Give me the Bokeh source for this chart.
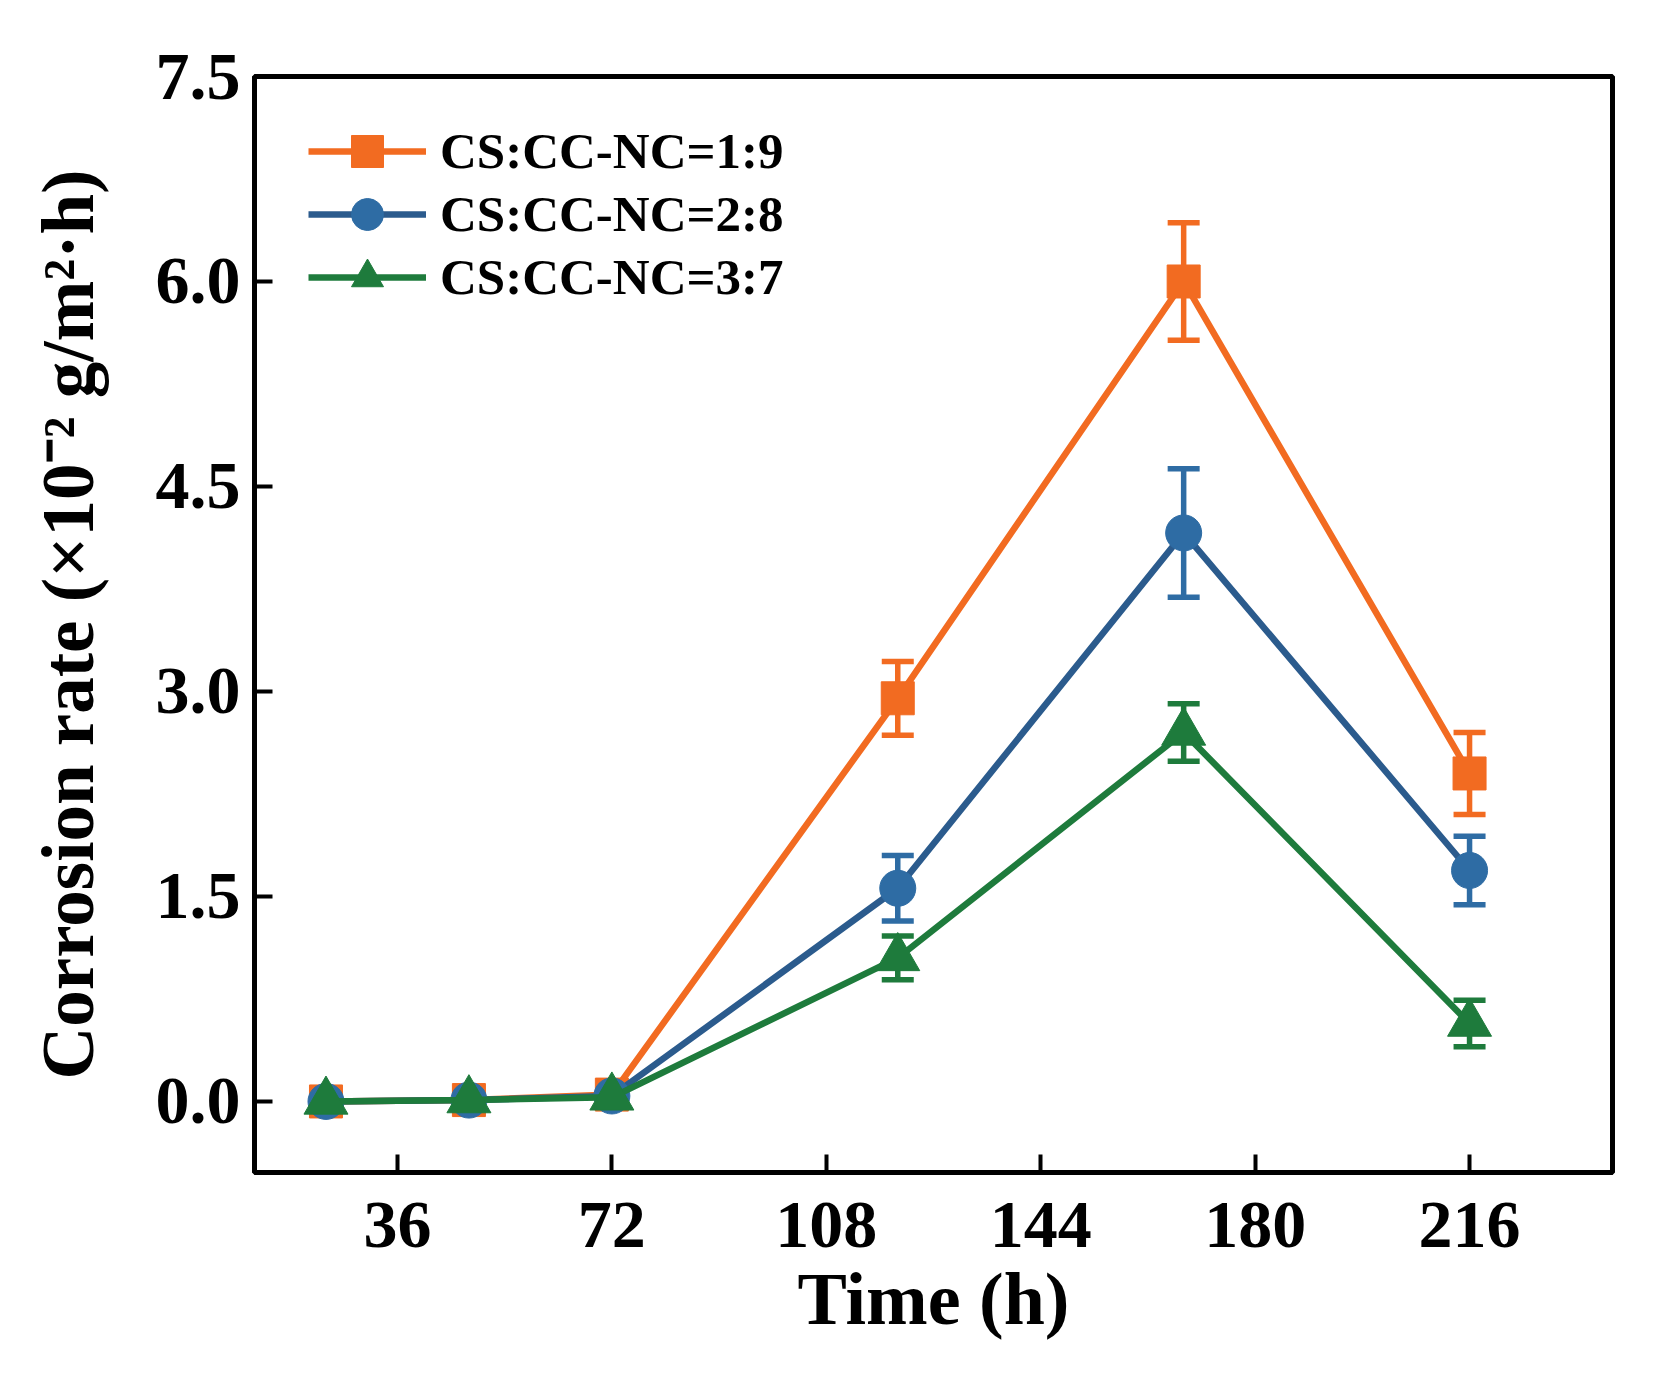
from bokeh.plotting import figure
from bokeh.models import ColumnDataSource, Range1d, FixedTicker, NumeralTickFormatter, Whisker, TeeHead, Legend
from bokeh.embed import file_html
from bokeh.resources import INLINE

# data
time_h = [24, 48, 72, 120, 168, 216]
names = ["CS:CC-NC=1:9", "CS:CC-NC=2:8", "CS:CC-NC=3:7"]
rate_19 = [0.00, 0.01, 0.05, 2.95, 6.00, 2.40]
err_19 = [0.0, 0.0, 0.0, 0.27, 0.43, 0.30]
rate_28 = [0.00, 0.01, 0.04, 1.56, 4.16, 1.69]
err_28 = [0.0, 0.0, 0.0, 0.24, 0.47, 0.25]
rate_37 = [0.00, 0.01, 0.03, 1.05, 2.70, 0.57]
err_37 = [0.0, 0.0, 0.0, 0.16, 0.21, 0.17]
x_ticks = [36, 72, 108, 144, 180, 216]
y_ticks = [0.0, 1.5, 3.0, 4.5, 6.0, 7.5]

FONT = "Liberation Serif"
W, H = 1647, 1368
TOP, BOTTOM = 76, 196

p = figure(width=W, height=H, output_backend="svg", toolbar_location=None,
           x_range=Range1d(12, 240), y_range=Range1d(-0.52, 7.5),
           min_border_left=254, min_border_right=35, min_border_top=TOP, min_border_bottom=BOTTOM)
p.grid.visible = False
p.outline_line_color = "black"
p.outline_line_width = 5

for ax in (p.xaxis[0], p.yaxis[0]):
    ax.axis_line_width = 5
    ax.major_tick_line_width = 4
    ax.major_tick_in = 18
    ax.major_tick_out = 0
    ax.minor_tick_line_color = None
    ax.major_label_text_font = FONT
    ax.major_label_text_font_style = "bold"
    ax.major_label_text_font_size = "68px"
    ax.major_label_text_color = "black"
    ax.axis_label_text_font = FONT
    ax.axis_label_text_font_style = "bold"
    ax.axis_label_text_color = "black"

p.xaxis.axis_label_text_font_size = "74px"
p.yaxis.axis_label_text_font_size = "73px"
p.xaxis.ticker = FixedTicker(ticks=x_ticks)
p.yaxis.ticker = FixedTicker(ticks=y_ticks)
p.yaxis.formatter = NumeralTickFormatter(format="0.0")
p.xaxis.axis_label = "Time (h)"
p.yaxis.axis_label = "Corrosion rate (\u00d710\u207b\u00b2 g/m\u00b2\u00b7h)"
p.xaxis.major_label_standoff = 30
p.yaxis.major_label_standoff = 14
p.xaxis.axis_label_standoff = 8
p.yaxis.axis_label_standoff = 44

series = [
    (rate_19, err_19, "#F26B21", "#F26B21", "square", 33),
    (rate_28, err_28, "#2E6CA4", "#2B5B8D", "circle", 36),
    (rate_37, err_37, "#1E7B3C", "#1E7B3C", "triangle", 44),
]

items = []
for (vals, errs, mcol, lcol, marker, size), name in zip(series, names):
    src = ColumnDataSource(dict(
        x=time_h, y=vals,
        lo=[v - e for v, e in zip(vals, errs)],
        hi=[v + e for v, e in zip(vals, errs)],
    ))
    ln = p.line("x", "y", source=src, line_color=lcol, line_width=6.5)
    w = Whisker(source=src, base="x", upper="hi", lower="lo", dimension="height",
                line_color=mcol, line_width=5.5,
                upper_head=TeeHead(size=32, line_color=mcol, line_width=5.5),
                lower_head=TeeHead(size=32, line_color=mcol, line_width=5.5))
    p.add_layout(w)
    sc = p.scatter("x", "y", source=src, marker=marker, size=size,
                   fill_color=mcol, line_color=mcol)
    items.append((name, [ln, sc]))

# one legend per entry so the rows can sit closer than the glyph box height
frame_h = H - TOP - BOTTOM
item_h = 80
for i, item in enumerate(items):
    centre = 75 + 63 * i
    legend = Legend(items=[item], location=(54, frame_h - centre - item_h // 2))
    legend.margin = 0
    legend.padding = 0
    legend.glyph_width = 118
    legend.glyph_height = item_h
    legend.label_height = item_h
    legend.label_standoff = 14
    legend.label_text_font = FONT
    legend.label_text_font_style = "bold"
    legend.label_text_font_size = "51px"
    legend.label_text_color = "black"
    legend.border_line_color = None
    legend.background_fill_alpha = 0
    p.add_layout(legend)

open("out.html", "w").write(file_html(p, INLINE))
